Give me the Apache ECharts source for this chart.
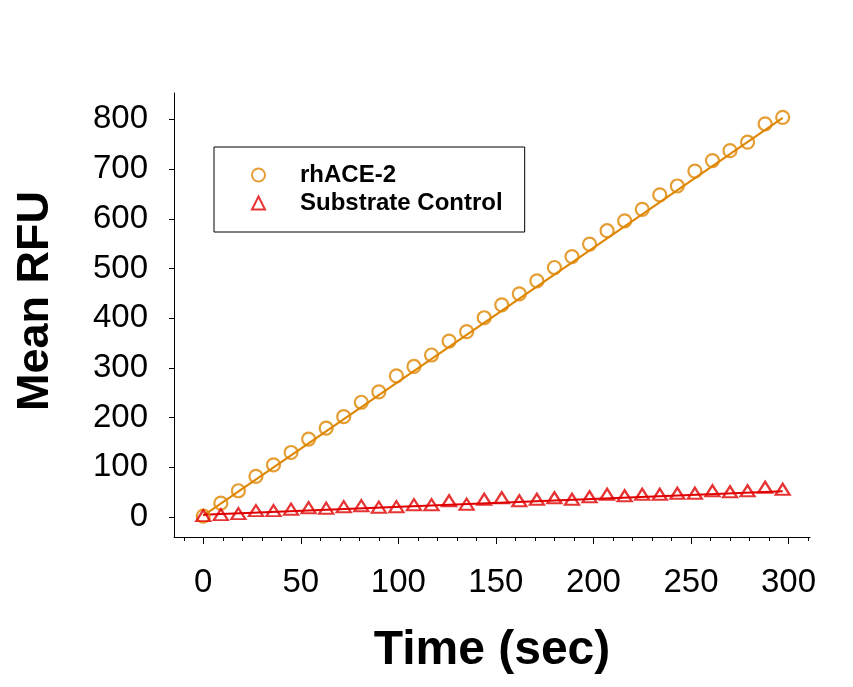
<!DOCTYPE html>
<html>
<head>
<meta charset="utf-8">
<script src="https://cdn.jsdelivr.net/npm/echarts@6/dist/echarts.min.js"></script>
<style>
  html, body { margin: 0; padding: 0; background: #ffffff; }
  #chart { width: 853px; height: 687px; }
</style>
</head>
<body>
<div id="chart"></div>
<script>
// time points (sec)
var timePoints = [0, 9, 18, 27, 36, 45, 54, 63, 72, 81, 90, 99, 108, 117, 126, 135, 144,
  153, 162, 171, 180, 189, 198, 207, 216, 225, 234, 243, 252, 261, 270, 279, 288, 297];
// mean RFU
var aceValues = [2, 28, 53, 82, 105, 130, 157, 179, 202, 231, 252, 284, 303, 326, 354, 373, 401,
  427, 449, 475, 502, 524, 549, 576, 596, 619, 648, 666, 696, 717, 737, 754, 791, 804];
var controlValues = [3, 5, 7, 13, 13, 16, 19, 18, 21, 23, 20, 21, 25, 25, 33, 26, 36,
  39, 33, 36, 39, 36, 41, 46, 43, 46, 46, 48, 48, 53, 51, 53, 60, 56];
// fitted line end points
var aceFit = [[0, 3], [297, 803]];
var controlFit = [[0, 5], [297, 52]];
// tick labels
var xTicks = [0, 50, 100, 150, 200, 250, 300];
var xMinorTicks = [-10, 0, 10, 20, 30, 40, 50, 60, 70, 80, 90, 100, 110, 120, 130, 140, 150,
  160, 170, 180, 190, 200, 210, 220, 230, 240, 250, 260, 270, 280, 290, 300, 310];
var yTicks = [0, 100, 200, 300, 400, 500, 600, 700, 800];

var orange = '#DE8600';
var red = '#E00000';
var font = 'Liberation Sans, Arial, sans-serif';

function pairs(xs, ys) {
  var out = [];
  for (var i = 0; i < xs.length; i++) out.push([xs[i], ys[i]]);
  return out;
}

var chart = echarts.init(document.getElementById('chart'));
var option = {
  backgroundColor: '#ffffff',
  animation: false,
  grid: { left: 174, right: 43, top: 93, bottom: 150 },
  legend: {
    data: ['rhACE-2', 'Substrate Control'],
    orient: 'vertical',
    left: 214,
    top: 147,
    itemWidth: 13,
    itemHeight: 13,
    itemGap: 4,
    borderColor: '#000000',
    borderWidth: 1,
    padding: [16, 22, 17, 37],
    textStyle: {
      fontFamily: font,
      fontSize: 24,
      fontWeight: 'bold',
      color: '#000000',
      padding: [0, 0, 0, 30]
    }
  },
  xAxis: [{
    type: 'value',
    min: -15,
    max: 311,
    name: 'Time (sec)',
    nameLocation: 'middle',
    nameGap: 90,
    nameTextStyle: { fontFamily: font, fontSize: 48, fontWeight: 'bold', color: '#000000' },
    splitLine: { show: false },
    axisLine: { onZero: false, lineStyle: { color: '#000000', width: 1 } },
    axisTick: { customValues: xTicks, length: 7, lineStyle: { color: '#000000' } },
    axisLabel: { customValues: xTicks, margin: 29, fontFamily: font, fontSize: 33, color: '#000000' }
  }, {
    type: 'value',
    min: -15,
    max: 311,
    position: 'bottom',
    splitLine: { show: false },
    axisLine: { show: false, onZero: false },
    axisTick: { customValues: xMinorTicks, length: 4, lineStyle: { color: '#000000' } },
    axisLabel: { show: false }
  }],
  yAxis: {
    type: 'value',
    min: -40,
    max: 853,
    name: 'Mean RFU',
    nameLocation: 'middle',
    nameGap: 116,
    nameTextStyle: { fontFamily: font, fontSize: 45, fontWeight: 'bold', color: '#000000', padding: [0, 0, 0, 28] },
    splitLine: { show: false },
    axisLine: { onZero: false, lineStyle: { color: '#000000', width: 1 } },
    axisTick: { customValues: yTicks, length: 5, lineStyle: { color: '#000000' } },
    axisLabel: { customValues: yTicks, margin: 26, fontFamily: font, fontSize: 33, color: '#000000' }
  },
  series: [{
    name: 'rhACE-2 fit',
    type: 'line',
    data: aceFit,
    showSymbol: false,
    lineStyle: { color: orange, width: 2 },
    z: 2
  }, {
    name: 'Substrate Control fit',
    type: 'line',
    data: controlFit,
    showSymbol: false,
    lineStyle: { color: red, width: 2 },
    z: 2
  }, {
    name: 'rhACE-2',
    type: 'scatter',
    data: pairs(timePoints, aceValues),
    symbol: 'circle',
    symbolSize: 13,
    itemStyle: { color: 'rgba(255,255,255,0)', borderColor: orange, borderWidth: 2.2 },
    z: 3
  }, {
    name: 'Substrate Control',
    type: 'scatter',
    data: pairs(timePoints, controlValues),
    symbol: 'triangle',
    symbolSize: [14, 11],
    itemStyle: { color: 'rgba(255,255,255,0)', borderColor: red, borderWidth: 2.2 },
    z: 3
  }]
};
chart.setOption(option);
</script>
</body>
</html>
